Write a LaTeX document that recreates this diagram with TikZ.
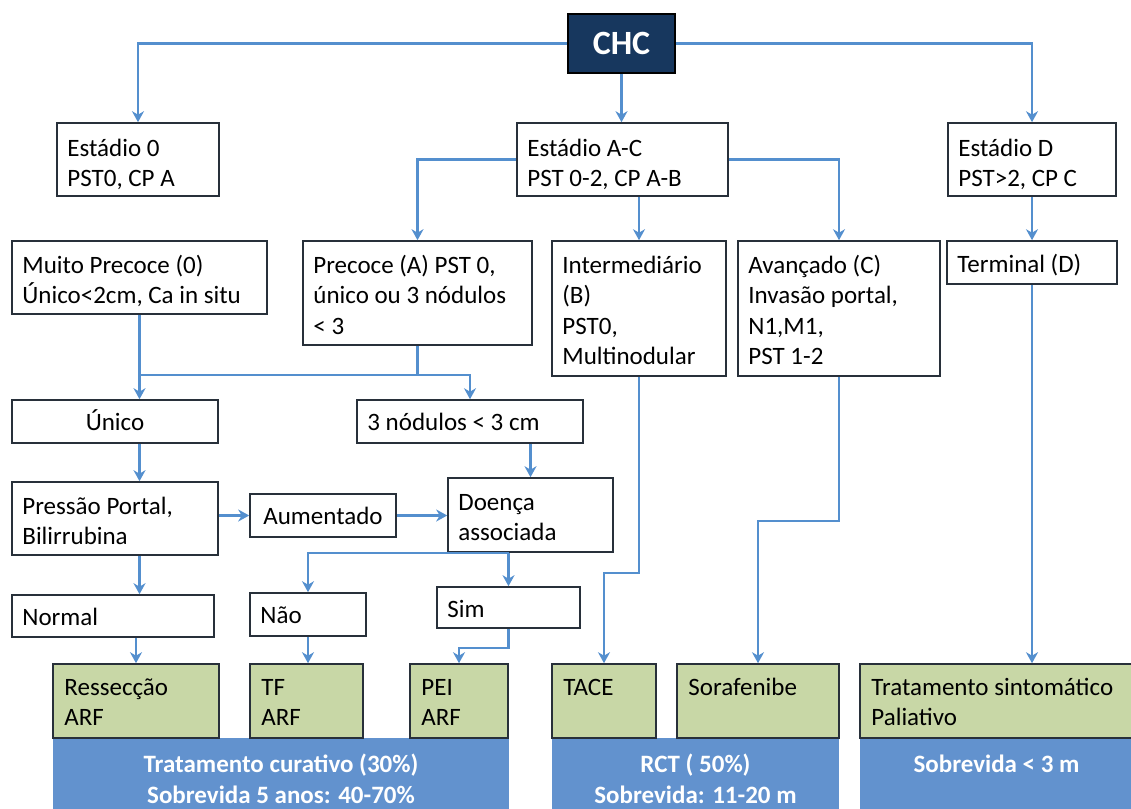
\documentclass[tikz,border=0pt]{standalone}
\usepackage{fontspec}
\setmainfont{Carlito}
\usetikzlibrary{fit,arrows.meta}
\definecolor{conn}{RGB}{84,143,206}
\definecolor{bord}{RGB}{40,48,58}
\definecolor{grn}{RGB}{200,215,166}
\definecolor{blu}{RGB}{98,146,206}
\definecolor{navy}{RGB}{23,55,94}
\tikzset{
  box/.style={draw=bord, line width=1.6pt, inner sep=0pt, fill=white},
  gbox/.style={box, fill=grn},
  bbox/.style={draw=none, fill=blu, inner sep=0pt},
  txt/.style={anchor=base west, align=flush left, inner sep=0pt, text width=#1, font=\fontsize{25}{30.5}\selectfont},
  txt/.default=260pt,
  ctxt/.style={anchor=base, align=flush center, inner sep=0pt, font=\fontsize{25}{30.5}\selectfont},
  wtxt/.style={anchor=base, align=flush center, inner sep=0pt, text width=#1, text=white, font=\bfseries\fontsize{25}{31}\selectfont},
  wtxt/.default=400pt,
  arr/.style={draw=conn, line width=2.6pt, -{Stealth[length=11pt,width=12pt,inset=3.5pt]}},
  ln/.style={draw=conn, line width=2.6pt},
}
\begin{document}
\begin{tikzpicture}[x=1pt,y=-1pt]
\useasboundingbox (0,0) rectangle (1131,808);
% ---------- boxes ----------
\node[draw=black, line width=1.6pt, fill=navy, inner sep=0pt, fit={(568,14) (675,73)}] (chc) {};
\node[text=white, font=\bfseries\fontsize{34}{40}\selectfont, inner sep=0pt] at (chc.center) {CHC};

\node[box, fit={(57,123) (219,196)}] (e0) {};
\node[txt] at ([xshift=11pt,yshift=-34pt]e0.north west) {Estádio 0\\PST0, CP A};
\node[box, fit={(517,123) (728,196)}] (eac) {};
\node[txt] at ([xshift=11pt,yshift=-34pt]eac.north west) {Estádio A-C\\PST 0-2, CP A-B};
\node[box, fit={(948,123) (1116,196)}] (ed) {};
\node[txt] at ([xshift=11pt,yshift=-34pt]ed.north west) {Estádio D\\PST>2, CP C};

\node[box, fit={(12,241) (267,314)}] (mp) {};
\node[txt] at ([xshift=11pt,yshift=-33pt]mp.north west) {Muito Precoce (0)\\Único<2cm, Ca in situ};
\node[box, fit={(303,241) (532,345)}] (pre) {};
\node[txt] at ([xshift=11pt,yshift=-33pt]pre.north west) {Precoce (A) PST 0,\\único ou 3 nódulos\\< 3};
\node[box, fit={(552,241) (726,376)}] (int) {};
\node[txt] at ([xshift=11pt,yshift=-33pt]int.north west) {Intermediário\\(B)\\PST0,\\Multinodular};
\node[box, fit={(738,241) (940,376)}] (av) {};
\node[txt] at ([xshift=11pt,yshift=-33pt]av.north west) {Avançado (C)\\Invasão portal,\\N1,M1,\\PST 1-2};
\node[box, fit={(947,241) (1117,284)}] (term) {};
\node[txt] at ([xshift=11pt,yshift=-32pt]term.north west) {Terminal (D)};

\node[box, fit={(12,400) (218,443)}] (unico) {};
\node[ctxt] at ([yshift=-31pt]unico.north) {Único};
\node[box, fit={(357,400) (583,443)}] (tres) {};
\node[txt] at ([xshift=11pt,yshift=-31pt]tres.north west) {3 nódulos < 3 cm};

\node[box, fit={(12,482) (218,555)}] (pp) {};
\node[txt] at ([xshift=11pt,yshift=-33pt]pp.north west) {Pressão Portal,\\Bilirrubina};
\node[box, fit={(250,494) (396,537)}] (aum) {};
\node[ctxt] at ([yshift=-31pt]aum.north) {Aumentado};
\node[box, fit={(448,478) (613,552)}] (doe) {};
\node[txt] at ([xshift=11pt,yshift=-33pt]doe.north west) {Doença\\associada};

\node[box, fit={(12,595) (214,637)}] (normal) {};
\node[txt] at ([xshift=11pt,yshift=-31pt]normal.north west) {Normal};
\node[box, fit={(250,593) (366,636)}] (nao) {};
\node[txt] at ([xshift=11pt,yshift=-31pt]nao.north west) {Não};
\node[box, fit={(437,587) (580,628)}] (sim) {};
\node[txt] at ([xshift=11pt,yshift=-31pt]sim.north west) {Sim};

% ---------- blue result boxes ----------
\node[bbox, fit={(53,738) (509,810)}] (b1) {};
\node[wtxt] at ([yshift=-35pt]b1.north) {Tratamento curativo (30\%)\\Sobrevida 5 anos: 40-70\%};
\node[bbox, fit={(552,738) (839,810)}] (b2) {};
\node[wtxt] at ([yshift=-35pt]b2.north) {RCT ( 50\%)\\Sobrevida: 11-20 m};
\node[bbox, fit={(860,738) (1133,810)}] (b3) {};
\node[wtxt] at ([yshift=-35pt]b3.north) {Sobrevida < 3 m};

% ---------- green treatment boxes ----------
\node[gbox, fit={(53,664) (219,738)}] (ress) {};
\node[txt] at ([xshift=12pt,yshift=-32pt]ress.north west) {Ressecção\\ARF};
\node[gbox, fit={(250,664) (363,738)}] (tf) {};
\node[txt] at ([xshift=12pt,yshift=-32pt]tf.north west) {TF\\ARF};
\node[gbox, fit={(410,664) (508,738)}] (pei) {};
\node[txt] at ([xshift=12pt,yshift=-32pt]pei.north west) {PEI\\ARF};
\node[gbox, fit={(552,664) (656,738)}] (tace) {};
\node[txt] at ([xshift=12pt,yshift=-32pt]tace.north west) {TACE};
\node[gbox, fit={(677,664) (839,738)}] (sor) {};
\node[txt] at ([xshift=12pt,yshift=-32pt]sor.north west) {Sorafenibe};
\node[gbox, fit={(860,664) (1133,738)}] (pal) {};
\node[txt] at ([xshift=12pt,yshift=-32pt]pal.north west) {Tratamento sintomático\\Paliativo};

% ---------- connectors ----------
\draw[arr] (chc.west) -| (e0.north);
\draw[arr] (chc.east) -| (ed.north);
\draw[arr] (chc.south) -- (chc.south |- eac.north);
\draw[arr] (eac.west) -| (pre.north);
\draw[arr] (eac.east) -| (av.north);
\draw[arr] (int.north |- eac.south) -- (int.north);
\draw[arr] (ed.south) -- (ed.south |- term.north);

\coordinate (jn) at (468,375);
\draw[arr] (mp.south) -- (mp.south |- unico.north);
\draw[arr] (mp.south |- jn) -| (tres.north);
\draw[ln] (pre.south) -- (pre.south |- jn);
\draw[arr] (doe.north |- tres.south) -- (doe.north);

\draw[arr] (mp.south |- unico.south) -- (mp.south |- pp.north);
\draw[arr] (pp.east |- aum.west) -- (aum.west);
\draw[arr] (aum.east) -- (aum.east -| doe.west);
\draw[arr] (mp.south |- pp.south) -- (mp.south |- normal.north);
\draw[arr] (ress.north |- normal.south) -- (ress.north);

\draw[arr] (sim.north |- doe.south) -| (nao.north);
\draw[arr] (sim.north |- doe.south) -- (sim.north);
\draw[arr] (nao.south) -- (nao.south |- tf.north);
\draw[arr] (sim.south) -- ++(0,19) -| (pei.north);

\draw[arr] (int.south) -- ++(0,196) -| (tace.north);
\draw[arr] (av.south) -- ++(0,144) -| (sor.north);
\draw[arr] (term.south) -- (term.south |- pal.north);
\end{tikzpicture}
\end{document}
